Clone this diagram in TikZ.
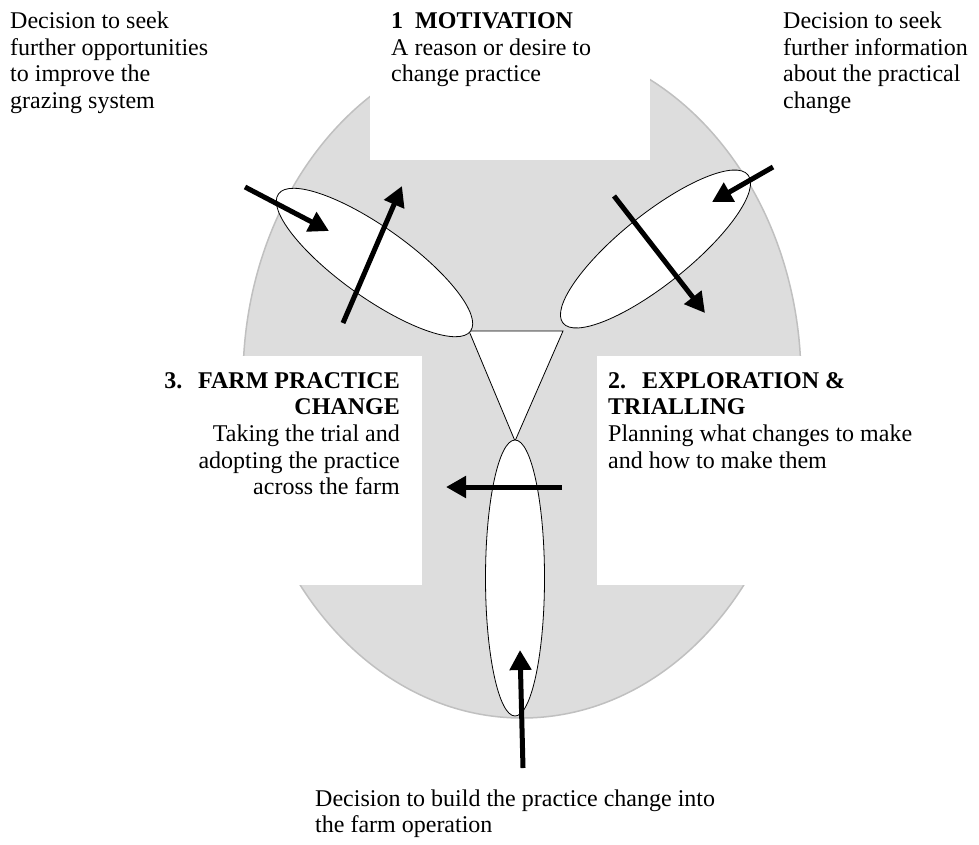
\documentclass[tikz,border=0pt]{standalone}
\usepackage{fontspec}
\setmainfont{Liberation Serif}
\usetikzlibrary{arrows.meta}
\definecolor{graybg}{RGB}{221,221,221}
\definecolor{grayedge}{RGB}{192,192,192}
\begin{document}
\begin{tikzpicture}[x=1pt,y=-1pt,
  txt/.style={inner sep=0pt, font=\fontsize{24}{27}\selectfont},
  lbl/.style={txt, anchor=base west},
  rlbl/.style={txt, anchor=base east},
  bigarrow/.style={line width=5pt, -{Triangle[length=20pt,width=21pt]}},
  pod/.style={draw=black, line width=0.8pt, fill=white},
]
\useasboundingbox (0,0) rectangle (979,844);
\fill[white] (0,0) rectangle (979,844);
% grey backdrop
\draw[fill=graybg, draw=grayedge, line width=1.5pt] (522,380) ellipse [x radius=279, y radius=338];
% white text panels
\fill[white] (370,-2) rectangle (650,160);
\fill[white] (-2,356) rectangle (422,585);
\fill[white] (597,356) rectangle (981,585);
% central triangle
\draw[pod] (469,331) -- (563,331) -- (515,441) -- cycle;
% three pods
\draw[pod, rotate around={-35.5:(374.5,262.5)}] (374.5,262.5) ellipse [x radius=118, y radius=35];
\draw[pod, rotate around={38.7:(655.5,249)}] (655.5,249) ellipse [x radius=118.5, y radius=35];
\draw[pod] (515,578) ellipse [x radius=29.5, y radius=138];
% arrow end points
\coordinate (a1s) at (245,187); \coordinate (a1e) at (329,231);
\coordinate (a2s) at (343,323); \coordinate (a2e) at (402,186);
\coordinate (a3s) at (773,167); \coordinate (a3e) at (712,202);
\coordinate (a4s) at (614,196); \coordinate (a4e) at (705,313);
\coordinate (a5s) at (562,487); \coordinate (a5e) at (446,487);
\coordinate (a6s) at (523,768); \coordinate (a6e) at (520,650);
\draw[bigarrow] (a1s) -- (a1e);
\draw[bigarrow] (a2s) -- (a2e);
\draw[bigarrow] (a3s) -- (a3e);
\draw[bigarrow] (a4s) -- (a4e);
\draw[bigarrow] (a5s) -- (a5e);
\draw[bigarrow] (a6s) -- (a6e);
% top-left text
\node[lbl] (tl1) at (10,28) {Decision to seek};
\node[lbl] (tl2) at (10,55) {further opportunities};
\node[lbl] (tl3) at (10,81.5) {to improve the};
\node[lbl] (tl4) at (10,108) {grazing system};
% top centre text
\node[lbl] (m1) at (391,28) {\bfseries 1\hspace{12pt}MOTIVATION};
\node[lbl] (m2) at (391,55) {A reason or desire to};
\node[lbl] (m3) at (391,81.5) {change practice};
% top-right text
\node[lbl] (tr1) at (783,28) {Decision to seek};
\node[lbl] (tr2) at (783,55) {further information};
\node[lbl] (tr3) at (783,81.5) {about the practical};
\node[lbl] (tr4) at (783,108) {change};
% left text
\node[rlbl] (f1) at (400,388) {\bfseries 3.\hspace{16pt}FARM PRACTICE};
\node[rlbl] (f2) at (400,414.7) {\bfseries CHANGE};
\node[rlbl] (f3) at (400,441.4) {Taking the trial and};
\node[rlbl] (f4) at (400,468.1) {adopting the practice};
\node[rlbl] (f5) at (400,494.8) {across the farm};
% right text
\node[lbl] (e1) at (608,388) {\bfseries 2.\hspace{16pt}EXPLORATION \&};
\node[lbl] (e2) at (608,414.7) {\bfseries TRIALLING};
\node[lbl] (e3) at (608,441.4) {Planning what changes to make};
\node[lbl] (e4) at (608,468.1) {and how to make them};
% bottom text
\node[lbl] (b1) at (315,806) {Decision to build the practice change into};
\node[lbl] (b2) at (315,832.5) {the farm operation};
\end{tikzpicture}
\end{document}
